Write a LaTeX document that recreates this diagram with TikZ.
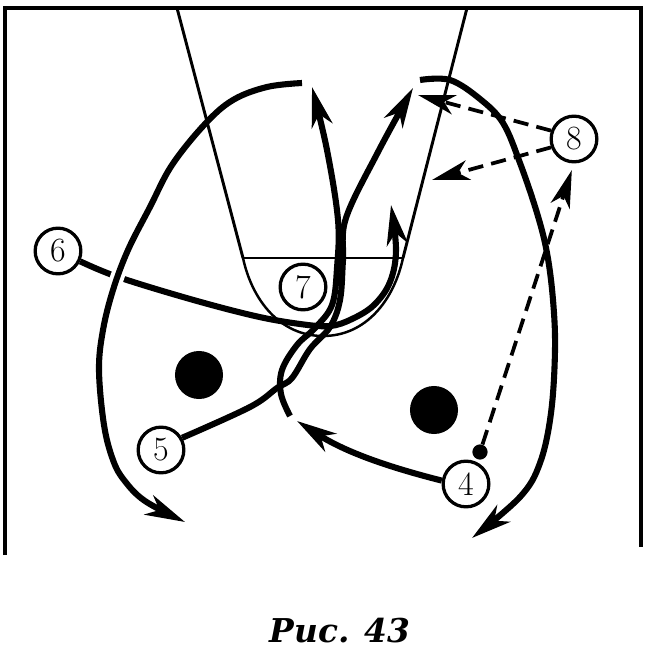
\documentclass[tikz,border=0pt]{standalone}
\usepackage{fontspec}
\newfontfamily\capfont{DejaVu Serif}
\usetikzlibrary{arrows.meta}
\tikzset{
    player/.style={circle, draw, line width=2.8pt, fill=white, inner sep=0pt,
        minimum size=39pt, font=\fontsize{29}{29}\selectfont},
    guard/.style={circle, fill, inner sep=0pt, minimum size=41pt},
    run/.style={line width=5.2pt, -{Stealth[length=34pt, width=18pt, inset=10pt]}},
    pass/.style={line width=3.2pt, dash pattern=on 13pt off 7pt,
        -{Stealth[length=32pt, width=17pt, inset=9pt]}},
    court/.style={line width=3.8pt},
    lane/.style={line width=2.5pt}
}
\begin{document}
\begin{tikzpicture}[x=0.03cm, y=-0.03cm]
    \useasboundingbox[fill=white] (0,0) rectangle (650,654);

    % players and defenders
    \node[player] (p6) at (58,251) {6};
    \node[player] (p7) at (303,287) {7};
    \node[player] (p5) at (161,450) {5};
    \node[player] (p4) at (466,484) {4};
    \node[player] (p8) at (574,139) {8};
    \node[circle, fill, inner sep=0pt, minimum size=13pt] (ball) at (480,452) {};
    \node[guard] (g1) at (199,375) {};
    \node[guard] (g2) at (434,410) {};

    \coordinate (c4b) at (290,416);
    \coordinate (c4c) at (302,83);
    \coordinate (c5b) at (420,80);
    \coordinate (t1) at (418,95);
    \coordinate (t2) at (432,180);

    % runs
    \draw[run] plot[smooth, tension=0.6] coordinates {(p6.-25) (118,277) (190,299)
        (255,316) (300,324) (330,326) (352,319) (374,305) (390,282) (396,250) (391,205)};
    \draw[run, preaction={draw=white, line width=12pt, -}] plot[smooth, tension=0.6]
        coordinates {(c4c) (267,87) (233,100) (205,124) (172,165) (150,207) (128,250)
        (113,290) (103,330) (99,370) (104,425) (113,460) (124,480) (145,501) (185,522)};
    \draw[run] (p4.172) .. controls (400,470) and (350,455) .. (297,421);
    \draw[run] plot[smooth, tension=0.6] coordinates {(c4b) (281,394) (282,370)
        (297,345) (315,328) (332,305) (337,268) (338,220) (327,150) (312,87)};
    \draw[run] plot[smooth, tension=0.6] coordinates {(p5.30) (250,407) (277,388)
        (292,378) (310,349) (330,327) (340,300) (343,260) (346,218) (378,152) (413,88)};
    \draw[run] plot[smooth, tension=0.6] coordinates {(c5b) (450,80) (480,99)
        (503,123) (520,163) (537,213) (547,253) (553,300) (555,350) (551,413)
        (540,463) (520,497) (472,538)};

    % court
    \draw[court] (5,555) -- (5,8) -- (641,8) -- (641,547);
    \draw[lane] (177,8) -- (243,258);
    \draw[lane] (467,8) -- (403,258);
    \draw[line width=2.1pt] (243,258) -- (403,258);
    \draw[line width=2.1pt] (243,258) .. controls (252,300) and (280,336) .. (323,336)
        .. controls (366,336) and (394,300) .. (403,258);

    % passes
    \draw[pass] (p8.160) -- (t1);
    \draw[pass] (p8.200) -- (t2);
    \draw[pass, shorten >=6pt] (ball) -- (p8.south);

    \node[anchor=base, font=\capfont\bfseries\itshape\fontsize{28}{28}\selectfont] (cap)
        at (340,642) {Рис.\hspace{0.45em}43};
\end{tikzpicture}
\end{document}
